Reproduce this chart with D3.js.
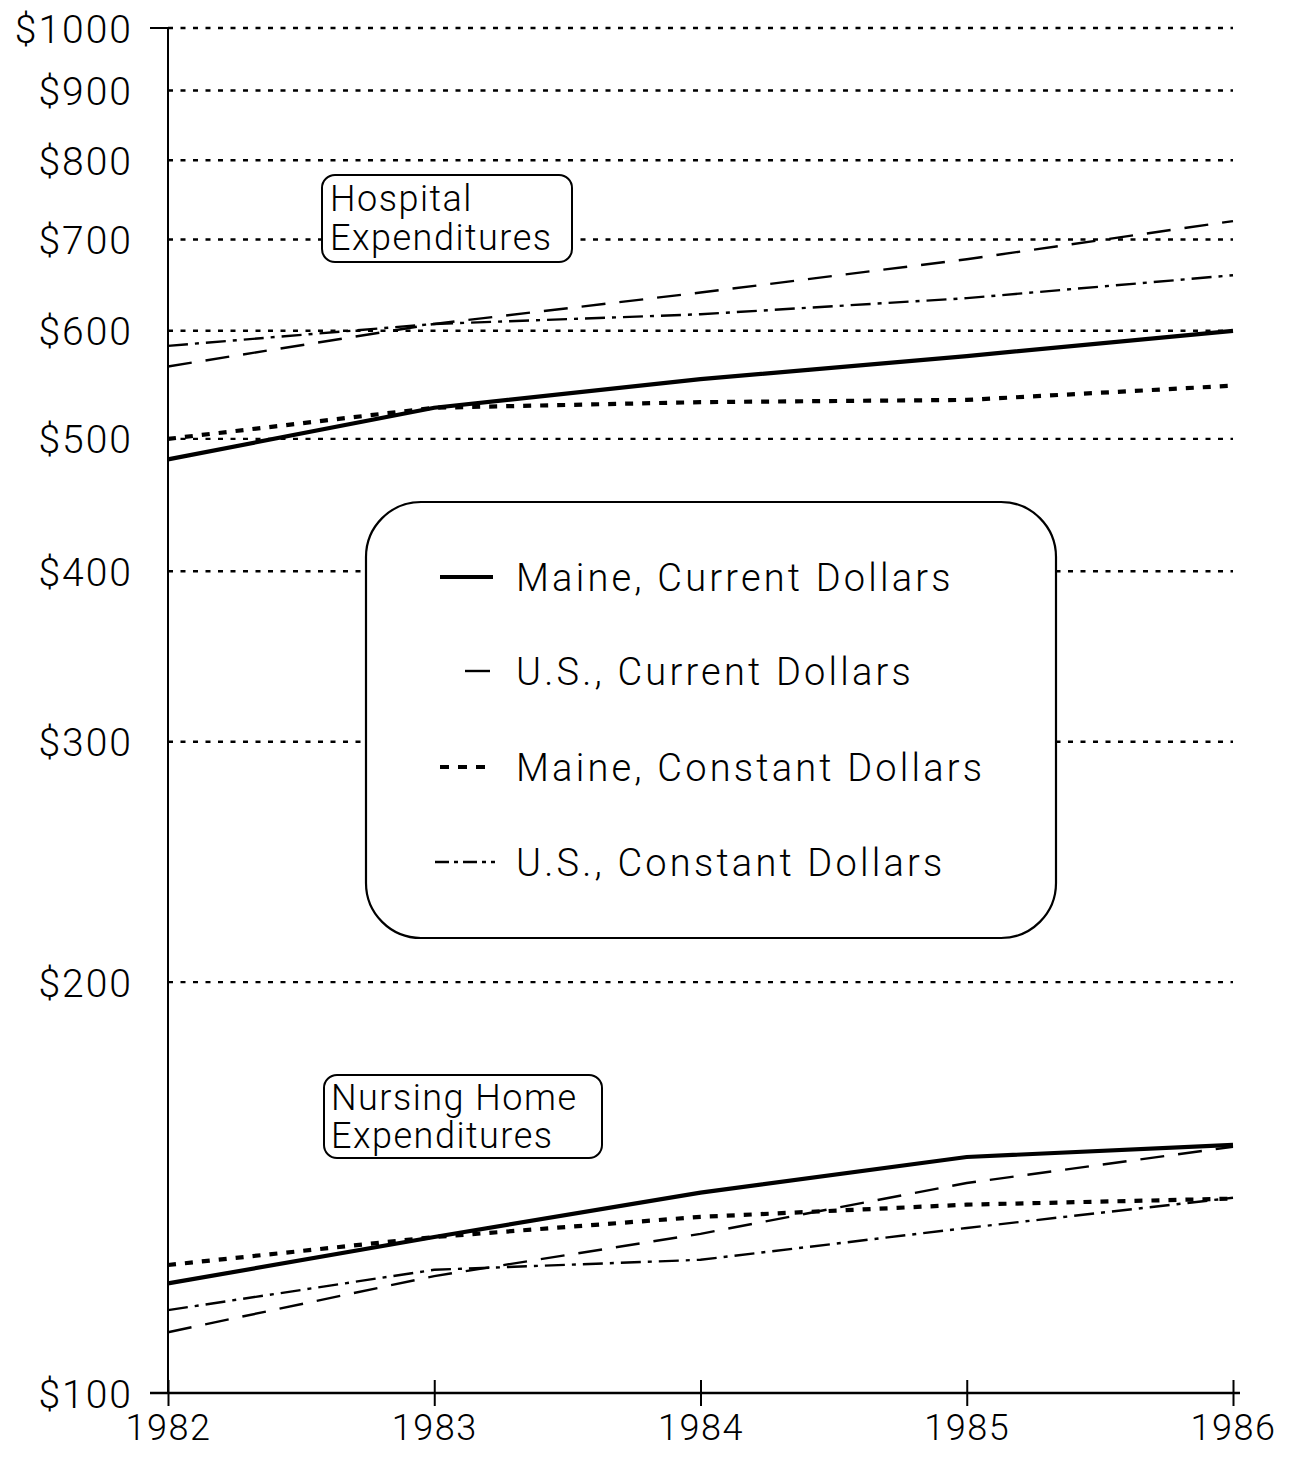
<!DOCTYPE html>
<html>
<head>
<meta charset="utf-8">
<script src="https://cdn.jsdelivr.net/npm/d3@7"></script>
<style>
  html, body { margin: 0; padding: 0; background: #fff; }
  svg { display: block; }
  text { font-family: Roboto, "DejaVu Sans", sans-serif; font-weight: 300; fill: #000; }
</style>
</head>
<body>
<svg id="chart" width="1291" height="1458"></svg>
<script>
// ---- data ----
const years = [1982, 1983, 1984, 1985, 1986];
const yTicks = [100, 200, 300, 400, 500, 600, 700, 800, 900, 1000];
const gridValues = [200, 300, 400, 500, 600, 700, 800, 900, 1000];

const hospitalMaineCurrent  = [483, 527, 553, 575, 600];
const hospitalUSCurrent     = [565, 607, 640, 677, 722];
const hospitalMaineConstant = [500, 527, 532, 534, 547];
const hospitalUSConstant    = [585, 607, 617, 634, 659];

const nursingMaineCurrent  = [120.3, 130.1, 140.2, 148.9, 152.0];
const nursingUSCurrent     = [110.8, 121.8, 130.8, 142.5, 151.5];
const nursingMaineConstant = [124.1, 130.1, 134.6, 137.4, 138.8];
const nursingUSConstant    = [115.0, 123.1, 125.2, 132.1, 139.0];

const legendLabels = [
  "Maine, Current Dollars",
  "U.S., Current Dollars",
  "Maine, Constant Dollars",
  "U.S., Constant Dollars"
];

(function () {
// ---- styles ----
const styles = {
  maineCurrent:  { width: 4.2, dash: null },
  usCurrent:     { width: 2.4, dash: "24,14" },
  maineConstant: { width: 4.2, dash: "8,9" },
  usConstant:    { width: 2.4, dash: "20,7,4,7" }
};

const svg = d3.select("#chart");
const mLeft = 168, mRight = 1233, mTop = 28, mBottom = 1393;

const x = d3.scaleLinear().domain([1982, 1986]).range([mLeft, mRight]);
const y = d3.scaleLog().domain([100, 1000]).range([mBottom, mTop]);

// gridlines
svg.append("g").selectAll("line").data(gridValues).join("line")
  .attr("x1", mLeft).attr("x2", mRight)
  .attr("y1", d => y(d)).attr("y2", d => y(d))
  .attr("stroke", "#000").attr("stroke-width", 2.4)
  .attr("stroke-dasharray", "5,7.5");

// series
const line = d3.line().x((d, i) => x(years[i])).y(d => y(d));
const series = [
  [hospitalUSConstant, styles.usConstant],
  [hospitalUSCurrent, styles.usCurrent],
  [hospitalMaineConstant, styles.maineConstant],
  [hospitalMaineCurrent, styles.maineCurrent],
  [nursingUSConstant, styles.usConstant],
  [nursingUSCurrent, styles.usCurrent],
  [nursingMaineConstant, styles.maineConstant],
  [nursingMaineCurrent, styles.maineCurrent]
];
svg.append("g").selectAll("path").data(series).join("path")
  .attr("d", d => line(d[0]))
  .attr("fill", "none").attr("stroke", "#000")
  .attr("stroke-width", d => d[1].width)
  .attr("stroke-dasharray", d => d[1].dash);

// y axis
const yAxis = d3.axisLeft(y).tickValues(yTicks)
  .tickFormat(d => "$" + d).tickSize(0).tickPadding(35);
const gy = svg.append("g").attr("transform", `translate(${mLeft},0)`).call(yAxis);
gy.select(".domain").remove();
gy.selectAll("text").style("font-size", "39px").style("letter-spacing", "2px")
  .attr("dy", "0.36em");
svg.append("line").attr("x1", mLeft).attr("x2", mLeft).attr("y1", mTop).attr("y2", mBottom)
  .attr("stroke", "#000").attr("stroke-width", 2);
svg.append("line").attr("x1", 150).attr("x2", mLeft).attr("y1", y(1000)).attr("y2", y(1000))
  .attr("stroke", "#000").attr("stroke-width", 2);

// x axis
const xAxis = d3.axisBottom(x).tickValues(years).tickFormat(d3.format("d")).tickSize(13).tickPadding(8);
const gx = svg.append("g").attr("transform", `translate(0,${mBottom})`).call(xAxis);
gx.select(".domain").remove();
gx.selectAll(".tick line").attr("y1", -13).attr("y2", 13).attr("stroke-width", 2);
gx.selectAll("text").style("font-size", "36px").style("letter-spacing", "1.5px");
svg.append("line").attr("x1", 150).attr("x2", 1240).attr("y1", mBottom).attr("y2", mBottom)
  .attr("stroke", "#000").attr("stroke-width", 2.5);

// label boxes
function labelBox(x0, y0, w, h, r, lines, size) {
  const g = svg.append("g");
  g.append("rect").attr("x", x0).attr("y", y0).attr("width", w).attr("height", h)
    .attr("rx", r).attr("ry", r)
    .attr("fill", "#fff").attr("stroke", "#000").attr("stroke-width", 2);
  lines.forEach(l => {
    g.append("text").attr("x", l[0]).attr("y", l[1]).text(l[2])
      .style("font-size", size + "px").style("letter-spacing", "1.5px");
  });
}
labelBox(322, 175, 250, 87, 13, [[330, 211, "Hospital"], [330, 250, "Expenditures"]], 36);
labelBox(324, 1075, 278, 83, 13, [[331, 1110, "Nursing Home"], [331, 1148, "Expenditures"]], 36);

// legend
const lg = svg.append("g");
lg.append("rect").attr("x", 366).attr("y", 502).attr("width", 690).attr("height", 436)
  .attr("rx", 55).attr("ry", 55)
  .attr("fill", "#fff").attr("stroke", "#000").attr("stroke-width", 2.2);
const legendRows = [577, 671, 767, 862];
const legendSamples = [
  { x1: 440, x2: 493, st: styles.maineCurrent },
  { x1: 465, x2: 490, st: { width: 2.4, dash: null } },
  { x1: 440, x2: 493, st: { width: 4.2, dash: "9,9" } },
  { x1: 435, x2: 495, st: { width: 2.4, dash: "14,5,4,5" } }
];
legendLabels.forEach((lab, i) => {
  const s = legendSamples[i];
  lg.append("line").attr("x1", s.x1).attr("x2", s.x2)
    .attr("y1", legendRows[i]).attr("y2", legendRows[i])
    .attr("stroke", "#000").attr("stroke-width", s.st.width)
    .attr("stroke-dasharray", s.st.dash);
  lg.append("text").attr("x", 516).attr("y", legendRows[i]).attr("dy", "0.36em")
    .text(lab).style("font-size", "38px").style("letter-spacing", "3.2px");
});
})();
</script>
</body>
</html>
